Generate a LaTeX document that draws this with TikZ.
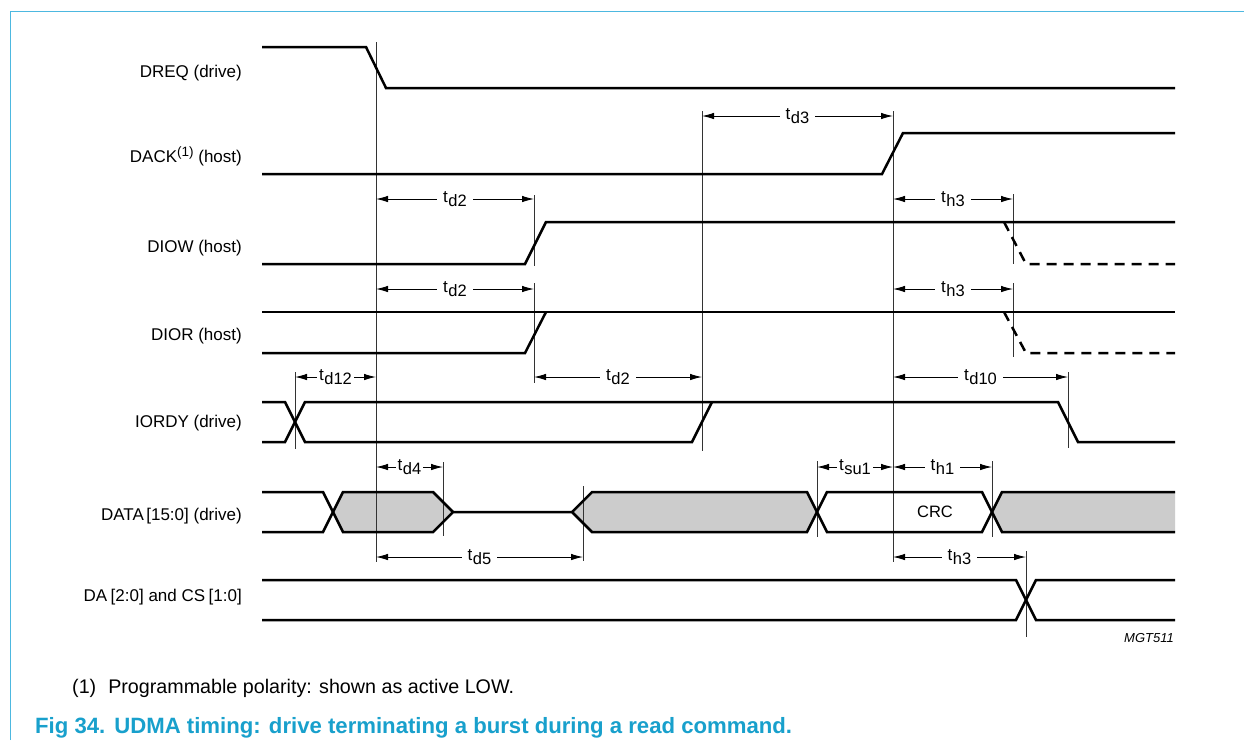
\documentclass[tikz,border=0pt]{standalone}
\usepackage{fontspec}
\setmainfont{Liberation Sans}
\usetikzlibrary{arrows.meta}
\definecolor{capblue}{HTML}{18A0CC}
\definecolor{framecol}{HTML}{4DB8E0}
\definecolor{shadecol}{HTML}{CCCCCC}
\newcommand\tsb[1]{t\kern0.5pt\raisebox{-4pt}{\fontsize{16.5}{18}\selectfont #1}}
\tikzset{
  sig/.style={line width=2.5pt, line join=miter},
  dsh/.style={sig, dash pattern=on 10pt off 7pt},
  refl/.style={line width=0.9pt, draw=black!80},
  dim/.style={line width=0.9pt, {Latex[length=12pt,width=6.5pt]}-{Latex[length=12pt,width=6.5pt]}},
  lbl/.style={fill=white, inner xsep=6pt, inner ysep=1pt, font=\fontsize{17}{19}\selectfont},
  siglabel/.style={anchor=base east, inner sep=0pt, font=\fontsize{17}{19}\selectfont},
}
\begin{document}
\begin{tikzpicture}[x=1pt, y=-1pt]
\useasboundingbox (0,0) rectangle (1244,740);
\fill[white] (0,0) rectangle (1244,740);
% frame
\draw[framecol, line width=1.3pt] (10.5,740) -- (10.5,11.5) -- (1244,11.5);

% signal labels
\node[siglabel] (lDREQ) at (242,77) {DREQ (drive)};
\node[siglabel] (lDACK) at (242,162) {DACK\raisebox{0.6ex}{\fontsize{13.5}{15}\selectfont(1)} (host)};
\node[siglabel] (lDIOW) at (242,252) {DIOW (host)};
\node[siglabel] (lDIOR) at (242,340) {DIOR (host)};
\node[siglabel] (lIORDY) at (242,427) {IORDY (drive)};
\node[siglabel] (lDATA) at (242,520) {DATA\kern2.5pt[15:0] (drive)};
\node[siglabel] (lDA) at (242,601) {DA\kern3.5pt[2:0] and CS\kern3.5pt[1:0]};

% shaded data regions
\fill[shadecol] (333,512) -- (343,492) -- (433,492) -- (453,512) -- (433,532) -- (343,532) -- cycle;
\fill[shadecol] (572,512) -- (592,492) -- (807,492) -- (817,512) -- (807,532) -- (592,532) -- cycle;
\fill[shadecol] (992,512) -- (1002,492) -- (1175,492) -- (1175,532) -- (1002,532) -- cycle;

% reference lines
\draw[refl] (376,42) -- (376,562);
\draw[refl] (702,111) -- (702,451);
\draw[refl] (893,111) -- (893,562);
\draw[refl] (534,195) -- (534,266);
\draw[refl] (534,283) -- (534,383);
\draw[refl] (1013,194) -- (1013,264);
\draw[refl] (1013,283) -- (1013,357);
\draw[refl] (295,372) -- (295,449);
\draw[refl] (1068,372) -- (1068,448);
\draw[refl] (443,462) -- (443,536);
\draw[refl] (583,486) -- (583,561);
\draw[refl] (817,461) -- (817,537);
\draw[refl] (992,461) -- (992,537);
\draw[refl] (1026,551) -- (1026,637);

% signals
\draw[sig] (262,47) -- (366,47) -- (386,88) -- (1175,88);
\draw[sig] (262,174) -- (882,174) -- (903,133) -- (1175,133);
\draw[sig] (262,264) -- (525,264) -- (546,222) -- (1175,222);
\draw[dsh] (1004,222) -- (1026,264) -- (1175,264);
\draw[sig] (262,312) -- (1175,312);
\draw[sig] (262,353) -- (525,353) -- (546,312);
\draw[dsh] (1004,312) -- (1026,353) -- (1175,353);
\draw[sig] (262,402) -- (285,402) -- (305,442) -- (692,442) -- (712,402);
\draw[sig] (262,442) -- (285,442) -- (305,402) -- (1058,402) -- (1078,442) -- (1175,442);
\draw[sig] (262,492) -- (323,492) -- (343,532) -- (433,532) -- (453,512) -- (572,512) -- (592,532) -- (807,532) -- (827,492) -- (982,492) -- (1002,532) -- (1175,532);
\draw[sig] (262,532) -- (323,532) -- (343,492) -- (433,492) -- (453,512);
\draw[sig] (572,512) -- (592,492) -- (807,492) -- (827,532) -- (982,532) -- (1002,492) -- (1175,492);
\draw[sig] (262,580) -- (1016,580) -- (1036,620) -- (1175,620);
\draw[sig] (262,620) -- (1016,620) -- (1036,580) -- (1175,580);
\node[font=\fontsize{16.5}{18}\selectfont] (crc) at (935,512) {CRC};

% dimension arrows
\draw[dim] (702,116) -- node[lbl] (td3) {\tsb{d3}} (893,116);
\draw[dim] (376,199) -- node[lbl] (td2a) {\tsb{d2}} (534,199);
\draw[dim] (893,199) -- node[lbl] (th3a) {\tsb{h3}} (1013,199);
\draw[dim] (376,289) -- node[lbl] (td2b) {\tsb{d2}} (534,289);
\draw[dim] (893,289) -- node[lbl] (th3b) {\tsb{h3}} (1013,289);
\draw[dim] (295,377) -- node[lbl, inner xsep=2pt] (td12) {\tsb{d12}} (376,377);
\draw[dim] (534,377) -- node[lbl] (td2c) {\tsb{d2}} (702,377);
\draw[dim] (893,377) -- node[lbl] (td10) {\tsb{d10}} (1068,377);
\draw[dim] (376,467) -- node[lbl, inner xsep=2pt] (td4) {\tsb{d4}} (443,467);
\draw[dim] (817,467) -- node[lbl, inner xsep=2pt] (tsu1) {\tsb{su1}} (893,467);
\draw[dim] (893,467) -- node[lbl] (th1) {\tsb{h1}} (992,467);
\draw[dim] (376,557) -- node[lbl] (td5) {\tsb{d5}} (583,557);
\draw[dim] (893,557) -- node[lbl] (th3c) {\tsb{h3}} (1026,557);

\node[anchor=base east, inner sep=0pt, font=\itshape\fontsize{13}{15}\selectfont] (mgt) at (1174,642) {MGT511};

% footnote and caption
\node[anchor=base west, inner sep=0pt, font=\fontsize{19.7}{22}\selectfont] (fn) at (72,693) {(1)\hspace{12pt}Programmable polarity: shown as active LOW.};
\node[anchor=base west, inner sep=0pt, text=capblue, font=\bfseries\fontsize{22.15}{26}\selectfont] (cap) at (35,733) {Fig 34.\hspace{9pt}UDMA timing: drive terminating a burst during a read command.};
\end{tikzpicture}
\end{document}
